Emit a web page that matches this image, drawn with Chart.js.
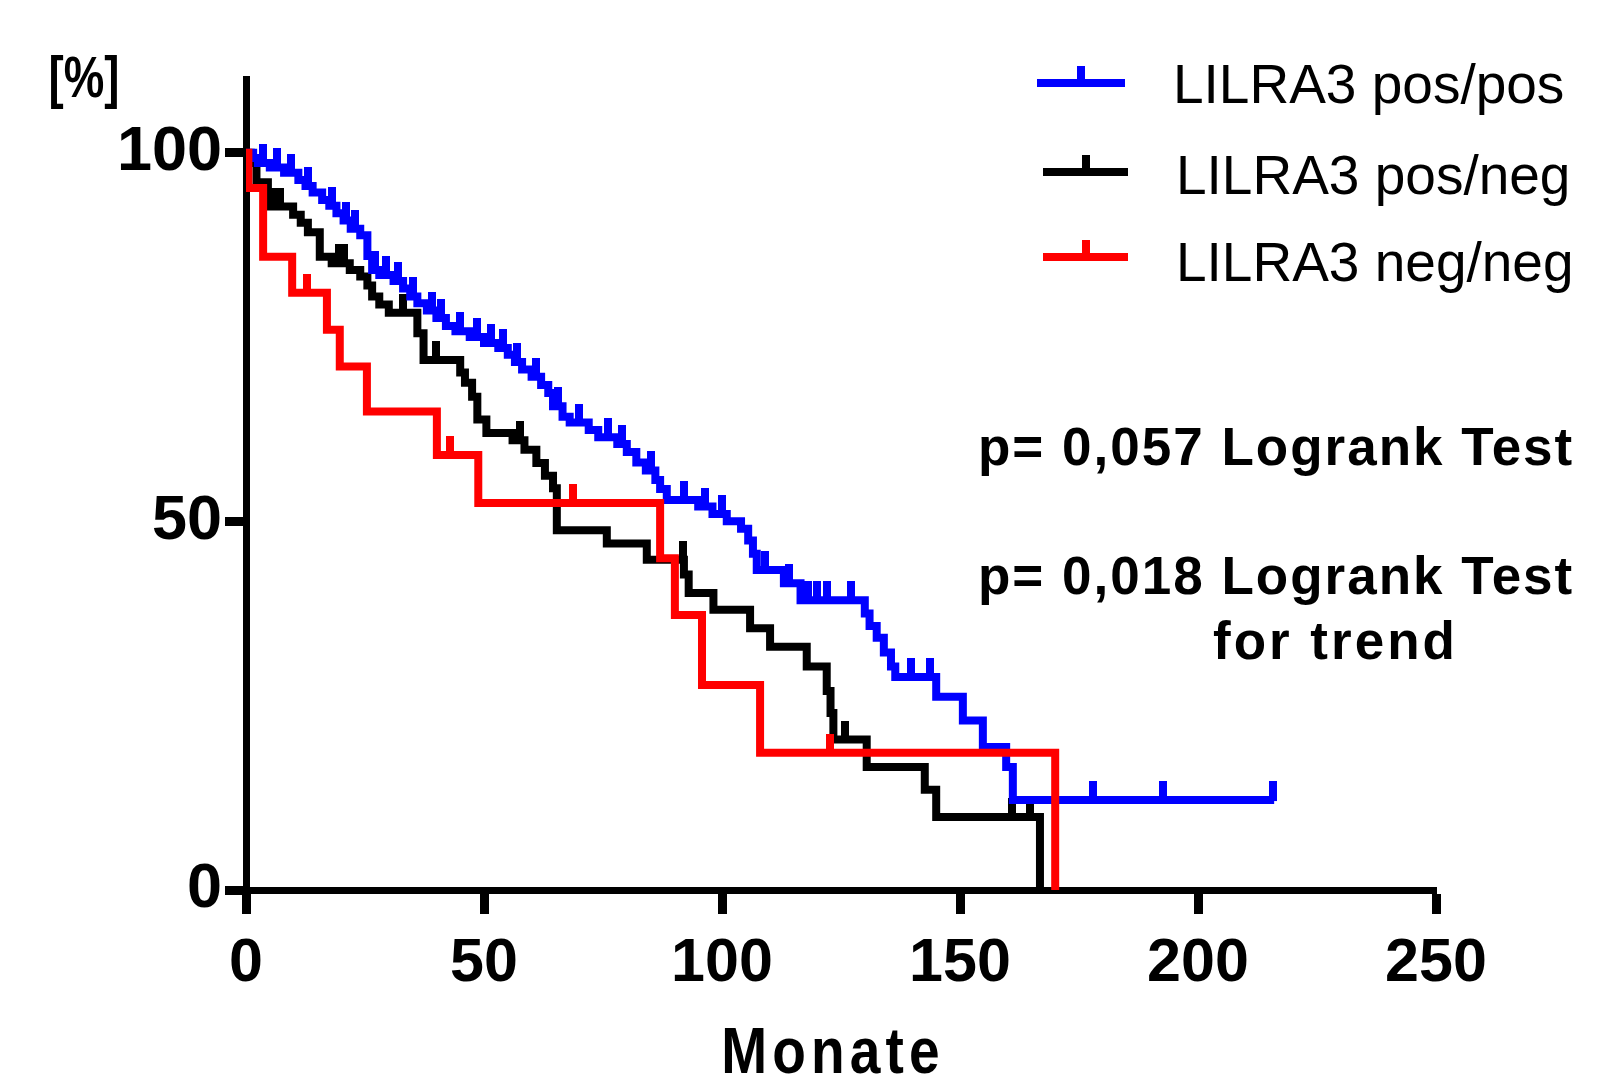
<!DOCTYPE html>
<html>
<head>
<meta charset="utf-8">
<script src="https://cdn.jsdelivr.net/npm/chart.js@4.4.1/dist/chart.umd.min.js"></script>
<style>
  html, body { margin: 0; padding: 0; background: #fff; }
  #wrap { width: 1601px; height: 1078px; }
</style>
</head>
<body>
<div id="wrap"><canvas id="km-chart" width="1601" height="1078"></canvas></div>
<script>
// Kaplan-Meier curves: time (Monate) and survival (%) after each step
const posPosTimes = [0, 1.5, 2.5, 5, 8, 11, 12.5, 14, 16, 17.5, 19, 20.5, 22, 24, 25.5, 26.5, 28, 31, 33, 34.5, 36, 38, 40, 42, 44, 47, 50, 53, 55, 56.5, 58, 60, 62, 63.5, 64.5, 66.5, 68, 72, 74, 78, 80, 82, 84, 86, 87, 88.4, 95, 98, 101, 104, 105.5, 106.5, 107.3, 113, 116.5, 130, 131, 132.5, 134, 135.5, 136.4, 145, 150.6, 154.8, 159.7, 161.1, 216];
const posPosSurv = [100, 99.3, 98.6, 98.0, 97.3, 96.3, 95.5, 94.6, 93.6, 92.8, 91.8, 90.8, 89.7, 88.8, 86.0, 84.1, 83.4, 82.6, 81.6, 80.5, 79.6, 78.6, 77.6, 76.5, 75.8, 75.0, 74.2, 73.5, 72.6, 71.6, 70.6, 69.6, 68.5, 67.4, 65.6, 64.2, 63.4, 62.4, 61.4, 60.5, 59.4, 58.0, 56.9, 55.6, 54.4, 52.9, 52.0, 51.0, 50.0, 49.0, 47.4, 45.6, 43.4, 41.6, 39.3, 37.5, 35.8, 34.2, 32.2, 30.3, 28.9, 26.2, 23.0, 19.4, 16.7, 12.2, 12.2];
const posPosCensTimes = [3.5, 6.5, 9.5, 13, 18, 21, 23, 27, 29.5, 32, 35, 39, 41, 45, 48.5, 51.5, 54, 57, 61, 65.5, 70, 76, 79, 85, 92, 96.5, 100, 109, 114, 118, 120, 122, 127, 139.8, 143.7, 178, 192.6, 215.8];
const posPosCensSurv = [98.6, 98.0, 97.3, 95.5, 92.8, 90.8, 89.7, 84.1, 83.4, 82.6, 80.5, 78.6, 77.6, 75.8, 75.0, 74.2, 73.5, 71.6, 69.6, 65.6, 63.4, 61.4, 60.5, 56.9, 52.9, 52.0, 51.0, 43.4, 41.6, 39.3, 39.3, 39.3, 39.3, 28.9, 28.9, 12.2, 12.2, 12.2];

const posNegTimes = [0, 1, 2.2, 4.6, 9.9, 11.5, 13, 15.5, 18, 21.8, 24, 25.5, 26.5, 28, 30, 36, 37.3, 45, 46, 47.5, 48.6, 50.5, 56, 58.5, 61, 62.8, 64.5, 65.3, 75.8, 84.2, 92, 93, 98.2, 105.9, 110.1, 117.8, 122, 122.8, 123.4, 130.4, 142.6, 145, 166.8];
const posNegSurv = [100, 98.6, 96.0, 92.7, 91.6, 90.5, 89.2, 85.9, 85.0, 84.1, 83.2, 82.0, 80.5, 79.4, 78.3, 75.5, 71.9, 70.2, 68.8, 66.9, 63.8, 62.0, 61.0, 59.7, 57.9, 56.2, 54.5, 48.8, 47.0, 44.8, 42.8, 40.3, 38.0, 35.5, 33.0, 30.3, 27.0, 24.0, 20.4, 16.7, 13.6, 9.9, 0];
const posNegCensTimes = [5.7, 7.1, 19.5, 20.5, 33, 40, 57.6, 91.8, 125.8, 161, 164.7];
const posNegCensSurv = [92.7, 92.7, 85.0, 85.0, 78.3, 71.9, 61.0, 44.8, 20.4, 9.9, 9.9];

const negNegTimes = [0, 0.5, 3.6, 9.7, 17, 19.7, 25.4, 40.1, 48.8, 87, 90.1, 95.8, 108, 170];
const negNegSurv = [100, 95.2, 85.9, 81.0, 76.0, 71.0, 64.9, 59.0, 52.5, 45.0, 37.3, 27.8, 18.6, 0];
const negNegCensTimes = [12.8, 42.9, 68.8, 122.7];
const negNegCensSurv = [81.0, 59.0, 52.5, 18.6];

const seriesLabels = ["LILRA3 pos/pos", "LILRA3 pos/neg", "LILRA3 neg/neg"];
const seriesColors = ["#0000ff", "#000000", "#ff0000"];
const xTicks = [0, 50, 100, 150, 200, 250];
const yTicks = [0, 50, 100];
const yUnitLabel = "[%]";
const xTitle = "Monate";
const pValueLines = ["p= 0,057 Logrank Test", "p= 0,018 Logrank Test", "for trend"];

const FONT = "'Liberation Sans', Arial, sans-serif";

function toPoints(xs, ys) {
  return xs.map((x, i) => ({ x: x, y: ys[i] }));
}

// small vertical tick used for censored cases, only the upper half is painted
function censorMark(color) {
  const c = document.createElement("canvas");
  c.width = 8;
  c.height = 38;
  const g = c.getContext("2d");
  g.fillStyle = color;
  g.fillRect(0, 0, 8, 20);
  return c;
}

function stepDataset(label, xs, ys, color, order) {
  return {
    label: label,
    data: toPoints(xs, ys),
    borderColor: color,
    borderWidth: 8,
    stepped: true,
    pointRadius: 0,
    fill: false,
    borderCapStyle: "butt",
    borderJoinStyle: "miter",
    order: order,
  };
}

function censorDataset(xs, ys, color, order) {
  return {
    label: "",
    data: toPoints(xs, ys),
    showLine: false,
    pointStyle: censorMark(color),
    pointRadius: 4,
    order: order,
  };
}

// legend, p values, axis title and the unit label drawn on top of the chart
const overlayPlugin = {
  id: "overlay",
  afterDraw(chart) {
    const ctx = chart.ctx;
    ctx.save();

    // legend
    const rows = [
      { lineY: 83, x0: 1037, x1: 1125, textX: 1173, baseY: 103 },
      { lineY: 172, x0: 1043, x1: 1128, textX: 1176, baseY: 194 },
      { lineY: 257, x0: 1043, x1: 1128, textX: 1176, baseY: 281 },
    ];
    rows.forEach((r, i) => {
      ctx.fillStyle = seriesColors[i];
      ctx.fillRect(r.x0, r.lineY - 4, r.x1 - r.x0, 8);
      const mid = Math.round((r.x0 + r.x1) / 2);
      ctx.fillRect(mid - 4, r.lineY - 17, 8, 14);
      ctx.fillStyle = "#000";
      ctx.font = "55px " + FONT;
      ctx.textBaseline = "alphabetic";
      ctx.textAlign = "left";
      ctx.fillText(seriesLabels[i], r.textX, r.baseY);
    });

    // p values
    ctx.font = "bold 53px " + FONT;
    ctx.letterSpacing = "2px";
    ctx.fillText(pValueLines[0], 978, 465);
    ctx.fillText(pValueLines[1], 978, 594);
    ctx.letterSpacing = "3px";
    ctx.fillText(pValueLines[2], 1213, 659);

    // x axis title, narrow letters with wide spacing
    const xs = chart.scales.x;
    ctx.save();
    ctx.translate((xs.left + xs.right) / 2 - 8, 1073);
    ctx.scale(0.86, 1);
    ctx.font = "bold 64px " + FONT;
    ctx.letterSpacing = "6px";
    ctx.textAlign = "center";
    ctx.fillText(xTitle, 0, 0);
    ctx.restore();
    ctx.letterSpacing = "0px";

    // unit label, squeezed like the original
    ctx.translate(84, 97);
    ctx.scale(0.8, 1);
    ctx.font = "bold 57px " + FONT;
    ctx.textAlign = "center";
    ctx.fillText(yUnitLabel, 0, 0);

    ctx.restore();
  },
};

const kmChart = new Chart(document.getElementById("km-chart"), {
  type: "line",
  data: {
    datasets: [
      stepDataset(seriesLabels[0], posPosTimes, posPosSurv, seriesColors[0], 2),
      stepDataset(seriesLabels[1], posNegTimes, posNegSurv, seriesColors[1], 3),
      stepDataset(seriesLabels[2], negNegTimes, negNegSurv, seriesColors[2], 1),
      censorDataset(posPosCensTimes, posPosCensSurv, seriesColors[0], 2),
      censorDataset(posNegCensTimes, posNegCensSurv, seriesColors[1], 3),
      censorDataset(negNegCensTimes, negNegCensSurv, seriesColors[2], 1),
    ],
  },
  options: {
    responsive: false,
    animation: false,
    events: [],
    layout: { padding: { top: 79, right: 165, left: 0, bottom: 0 } },
    plugins: {
      legend: { display: false },
      tooltip: { enabled: false },
    },
    scales: {
      x: {
        type: "linear",
        min: 0,
        max: 250,
        afterBuildTicks: (scale) => {
          scale.ticks = xTicks.map((v) => ({ value: v }));
        },
        afterFit: (scale) => {
          scale.height = 188;
        },
        grid: {
          drawOnChartArea: false,
          drawTicks: true,
          tickLength: 24,
          tickWidth: 9,
          tickColor: "#000",
        },
        border: { display: true, color: "#000", width: 7 },
        ticks: {
          color: "#000",
          padding: 14,
          maxRotation: 0,
          font: { family: FONT, size: 61, weight: "bold" },
        },
        title: { display: false, text: xTitle },
      },
      y: {
        type: "linear",
        min: 0,
        max: 110,
        afterBuildTicks: (scale) => {
          scale.ticks = yTicks.map((v) => ({ value: v }));
        },
        afterFit: (scale) => {
          scale.width = 246;
        },
        grid: {
          drawOnChartArea: false,
          drawTicks: true,
          tickLength: 21,
          tickWidth: 9,
          tickColor: "#000",
        },
        border: { display: true, color: "#000", width: 7 },
        ticks: {
          color: "#000",
          padding: 3,
          font: { family: FONT, size: 63, weight: "bold" },
        },
      },
    },
  },
  plugins: [overlayPlugin],
});
</script>
</body>
</html>
